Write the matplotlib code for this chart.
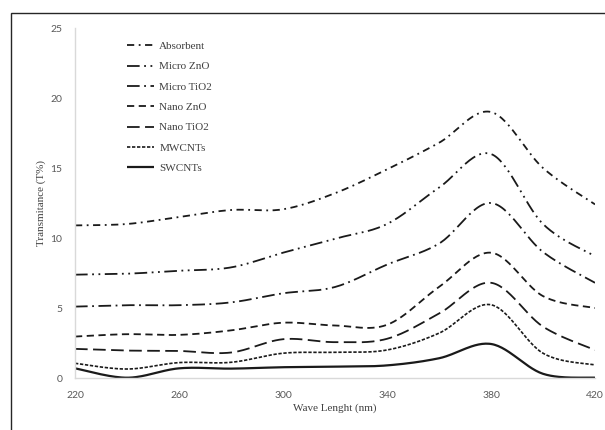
"""Transmittance spectra of absorbent and nano/micro additives."""

import matplotlib

matplotlib.use("Agg")
import matplotlib.pyplot as plt
import numpy as np
from matplotlib.patches import Rectangle

wavelength = [220, 240, 260, 280, 300, 320, 340, 360, 380, 400, 420]

absorbent = [10.9, 11.0, 11.5, 12.0, 12.05, 13.2, 14.9, 16.8, 19.0, 15.0, 12.4]
micro_zno = [7.38, 7.45, 7.66, 7.9, 8.95, 9.95, 11.0, 13.6, 16.0, 11.0, 8.7]
micro_tio2 = [5.1, 5.2, 5.2, 5.4, 6.05, 6.5, 8.1, 9.6, 12.5, 9.0, 6.8]
nano_zno = [2.96, 3.13, 3.08, 3.4, 3.95, 3.75, 3.8, 6.5, 8.95, 5.85, 5.0]
nano_tio2 = [2.08, 1.96, 1.93, 1.82, 2.77, 2.56, 2.8, 4.6, 6.8, 3.67, 2.0]
mwcnts = [1.05, 0.64, 1.1, 1.12, 1.77, 1.84, 2.0, 3.2, 5.23, 1.77, 0.93]
swcnts = [0.69, 0.02, 0.69, 0.67, 0.77, 0.81, 0.9, 1.41, 2.43, 0.3, 0.02]

series = [
    ("Absorbent", absorbent, (0, (4, 2.5, 1, 2.5)), 1.3),
    ("Micro ZnO", micro_zno, (0, (7, 2.5, 1, 2.5, 1, 2.5)), 1.3),
    ("Micro TiO2", micro_tio2, (0, (7, 2.5, 1, 2.5)), 1.3),
    ("Nano ZnO", nano_zno, (0, (4, 2.5)), 1.3),
    ("Nano TiO2", nano_tio2, (0, (7, 3)), 1.3),
    ("MWCNTs", mwcnts, (0, (2, 1)), 1.2),
    ("SWCNTs", swcnts, "-", 1.6),
]


def smooth_curve(xs, ys, steps=30):
    """Excel-style smoothed line: Catmull-Rom spline drawn as cubic Beziers."""
    pts = np.column_stack([xs, ys]).astype(float)
    padded = np.vstack([pts[0], pts, pts[-1]])
    t = np.linspace(0, 1, steps)[:, None]
    out = []
    for i in range(len(pts) - 1):
        p0, p1, p2, p3 = padded[i], padded[i + 1], padded[i + 2], padded[i + 3]
        c1 = p1 + (p2 - p0) / 6
        c2 = p2 - (p3 - p1) / 6
        seg = ((1 - t) ** 3) * p1 + 3 * ((1 - t) ** 2) * t * c1 \
            + 3 * (1 - t) * t ** 2 * c2 + t ** 3 * p2
        out.append(seg if i == 0 else seg[1:])
    curve = np.vstack(out)
    return curve[:, 0], curve[:, 1]


fig = plt.figure(figsize=(6.05, 4.3), dpi=100)
ax = fig.add_axes([75 / 605, 52 / 430, 520 / 605, 350 / 430])

for label, values, style, width in series:
    cx, cy = smooth_curve(wavelength, values)
    ax.plot(cx, cy, color="#1a1a1a", linestyle=style, linewidth=width,
            label=label, solid_capstyle="butt", dash_capstyle="butt")

ax.set_xlim(220, 420)
ax.set_ylim(0, 25)
ax.set_xticks([220, 260, 300, 340, 380, 420])
ax.set_yticks([0, 5, 10, 15, 20, 25])
ax.tick_params(length=0, labelsize=7.5, labelcolor="#595959", pad=9)
for tick in ax.get_xticklabels() + ax.get_yticklabels():
    tick.set_family(["Lato", "DejaVu Sans"])
for side in ("top", "right"):
    ax.spines[side].set_visible(False)
for side in ("left", "bottom"):
    ax.spines[side].set_color("#d9d9d9")
    ax.spines[side].set_linewidth(1.0)

serif = ["Liberation Serif", "DejaVu Serif"]
ax.set_xlabel("Wave Lenght (nm)", fontsize=8, family=serif, color="#404040",
              labelpad=3)
ax.set_ylabel("Transmitance (T%)", fontsize=8, family=serif, color="#404040",
              labelpad=3)

legend = ax.legend(
    loc="upper left",
    bbox_to_anchor=(0.1, 0.962),
    frameon=False,
    prop={"family": serif, "size": 8},
    handlelength=2.4,
    handletextpad=0.5,
    labelspacing=0.95,
    borderpad=0,
    borderaxespad=0,
)
for text in legend.get_texts():
    text.set_color("#404040")

# outer chart border (only top and left edges fall inside the image)
fig.patches.append(Rectangle((11 / 605, -0.1), 1.2, (430 - 13) / 430 + 0.1,
                             transform=fig.transFigure, fill=False,
                             edgecolor="#262626", linewidth=1.0))

fig.savefig("out.png", dpi=100)
plt.close(fig)
